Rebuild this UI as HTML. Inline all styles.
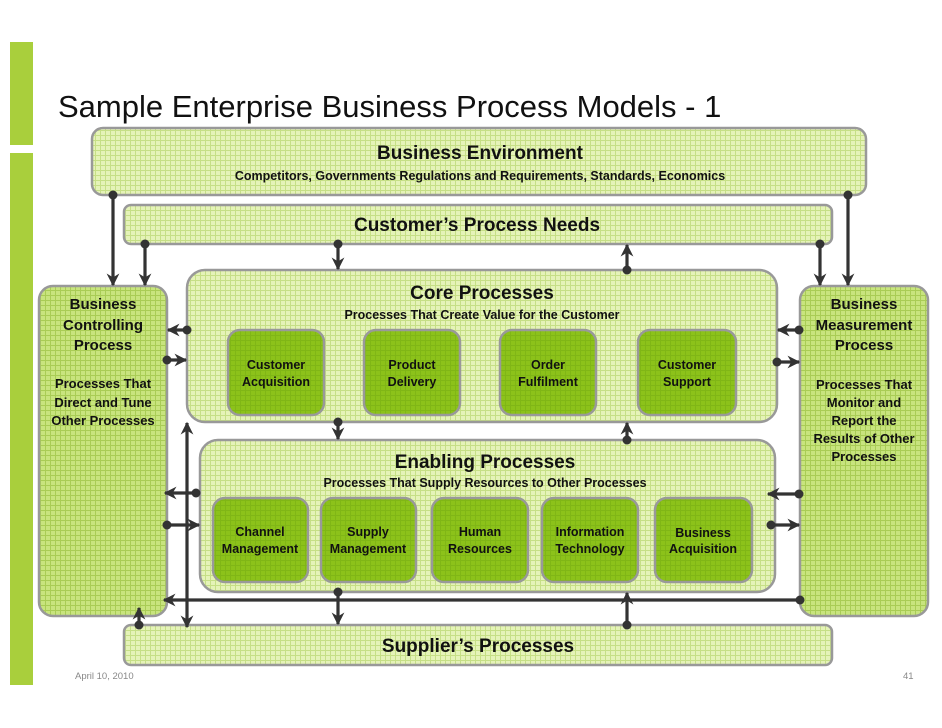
<!DOCTYPE html>
<html><head><meta charset="utf-8"><style>
body{margin:0;background:#fff;}
svg{display:block;font-family:"Liberation Sans",sans-serif;font-weight:bold;}
</style></head><body>
<svg width="942" height="728" viewBox="0 0 942 728" xmlns="http://www.w3.org/2000/svg">
<defs>
<pattern id="gl" width="5" height="5" patternUnits="userSpaceOnUse"><rect width="5" height="5" fill="#e5f3b8"/><path d="M0 0.5H5M0.5 0V5" stroke="#c6df86" stroke-width="1"/></pattern>
<pattern id="gm" width="5" height="5" patternUnits="userSpaceOnUse"><rect width="5" height="5" fill="#c8e47e"/><path d="M0 0.5H5M0.5 0V5" stroke="#a9cc55" stroke-width="1"/></pattern>
<pattern id="gd" width="5" height="5" patternUnits="userSpaceOnUse"><rect width="5" height="5" fill="#8cc21a"/><path d="M0 0.5H5M0.5 0V5" stroke="#80b616" stroke-width="1"/></pattern>
<marker id="ah" viewBox="0 0 10 10" refX="9" refY="5" markerWidth="4" markerHeight="4" orient="auto-start-reverse"><path d="M0 0L10 5L0 10L3 5Z" fill="#333"/></marker>
</defs>
<rect x="10" y="42" width="23" height="103" fill="#a9cf3c"/>
<rect x="10" y="153" width="23" height="532" fill="#a9cf3c"/>
<text x="58" y="117" font-size="31" font-weight="normal" fill="#111">Sample Enterprise Business Process Models - 1</text>

<g stroke="#999" stroke-width="2.5">
<rect x="92" y="128" width="774" height="67" rx="11" fill="url(#gl)"/>
<rect x="124" y="205" width="708" height="39" rx="7" fill="url(#gl)"/>
<rect x="39" y="286" width="128" height="330" rx="14" fill="url(#gm)"/>
<rect x="800" y="286" width="128" height="330" rx="14" fill="url(#gm)"/>
<rect x="187" y="270" width="590" height="152" rx="18" fill="url(#gl)"/>
<rect x="200" y="440" width="575" height="152" rx="18" fill="url(#gl)"/>
<rect x="124" y="625" width="708" height="40" rx="7" fill="url(#gl)"/>
<g fill="url(#gd)">
<rect x="228" y="330" width="96" height="85" rx="12"/>
<rect x="364" y="330" width="96" height="85" rx="12"/>
<rect x="500" y="330" width="96" height="85" rx="12"/>
<rect x="638" y="330" width="98" height="85" rx="12"/>
<rect x="213" y="498" width="95" height="84" rx="12"/>
<rect x="321" y="498" width="95" height="84" rx="12"/>
<rect x="432" y="498" width="96" height="84" rx="12"/>
<rect x="542" y="498" width="96" height="84" rx="12"/>
<rect x="655" y="498" width="97" height="84" rx="12"/>
</g></g>

<g fill="#111" text-anchor="middle">
<text x="480" y="159" font-size="19">Business Environment</text>
<text x="480" y="180" font-size="12.5">Competitors, Governments Regulations and Requirements, Standards, Economics</text>
<text x="477" y="231" font-size="19">Customer’s Process Needs</text>
<text x="482" y="299" font-size="19">Core Processes</text>
<text x="482" y="319" font-size="12.5">Processes That Create Value for the Customer</text>
<text x="485" y="468" font-size="19">Enabling Processes</text>
<text x="485" y="487" font-size="12.5">Processes That Supply Resources to Other Processes</text>
<text x="478" y="652" font-size="19">Supplier’s Processes</text>
<g font-size="15"><text x="103" y="309">Business</text><text x="103" y="330">Controlling</text><text x="103" y="350">Process</text>
<text x="864" y="309">Business</text><text x="864" y="330">Measurement</text><text x="864" y="350">Process</text></g>
<g font-size="13"><text x="103" y="388">Processes That</text><text x="103" y="407">Direct and Tune</text><text x="103" y="425">Other Processes</text>
<text x="864" y="389">Processes That</text><text x="864" y="407">Monitor and</text><text x="864" y="425">Report the</text><text x="864" y="443">Results of Other</text><text x="864" y="461">Processes</text></g>
<g font-size="12.5">
<text x="276" y="369">Customer</text><text x="276" y="386">Acquisition</text>
<text x="412" y="369">Product</text><text x="412" y="386">Delivery</text>
<text x="548" y="369">Order</text><text x="548" y="386">Fulfilment</text>
<text x="687" y="369">Customer</text><text x="687" y="386">Support</text>
<text x="260" y="536">Channel</text><text x="260" y="553">Management</text>
<text x="368" y="536">Supply</text><text x="368" y="553">Management</text>
<text x="480" y="536">Human</text><text x="480" y="553">Resources</text>
<text x="590" y="536">Information</text><text x="590" y="553">Technology</text>
<text x="703" y="537">Business</text><text x="703" y="553">Acquisition</text>
</g></g>
<text x="75" y="679" font-size="9.5" font-weight="normal" fill="#888">April 10, 2010</text>
<text x="903" y="679" font-size="9.5" font-weight="normal" fill="#888">41</text>

<g stroke="#333" stroke-width="3.2" fill="none" marker-end="url(#ah)">
<path d="M113 195V285"/><path d="M145 244V285"/><path d="M848 195V285"/><path d="M820 244V285"/>
<path d="M338 244V269"/><path d="M627 270V245"/>
<path d="M187 330H168"/><path d="M167 360H186"/>
<path d="M799 330H778"/><path d="M777 362H799"/>
<path d="M338 422V439"/><path d="M627 440V423"/>
<path d="M196 493H165"/><path d="M167 525H199"/>
<path d="M799 494H768"/><path d="M771 525H799"/>
<path d="M187 600H164"/><path d="M338 592V624"/><path d="M627 625V593"/><path d="M139 625V608"/>
<path d="M187 423V627" marker-start="url(#ah)"/>
</g>
<path d="M187 600H800" stroke="#333" stroke-width="3.2"/>
<g fill="#333">
<circle cx="113" cy="195" r="4.5"/><circle cx="145" cy="244" r="4.5"/><circle cx="848" cy="195" r="4.5"/><circle cx="820" cy="244" r="4.5"/>
<circle cx="338" cy="244" r="4.5"/><circle cx="627" cy="270" r="4.5"/>
<circle cx="187" cy="330" r="4.5"/><circle cx="167" cy="360" r="4.5"/><circle cx="799" cy="330" r="4.5"/><circle cx="777" cy="362" r="4.5"/>
<circle cx="338" cy="422" r="4.5"/><circle cx="627" cy="440" r="4.5"/>
<circle cx="196" cy="493" r="4.5"/><circle cx="167" cy="525" r="4.5"/><circle cx="799" cy="494" r="4.5"/><circle cx="771" cy="525" r="4.5"/>
<circle cx="800" cy="600" r="4.5"/><circle cx="338" cy="592" r="4.5"/><circle cx="627" cy="625" r="4.5"/><circle cx="139" cy="625" r="4.5"/>
</g>
</svg>
</body></html>
